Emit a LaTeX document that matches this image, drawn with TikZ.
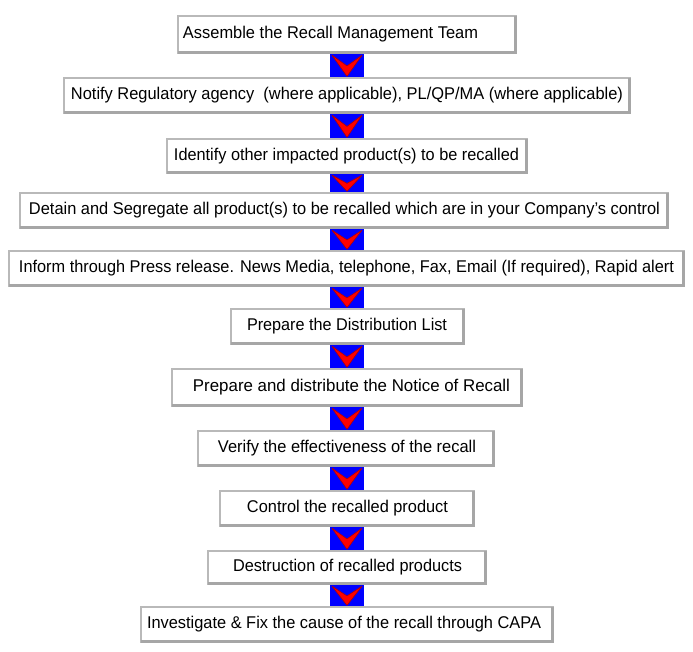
\documentclass[tikz,border=0pt]{standalone}
\usepackage{fontspec}
\setmainfont{Liberation Sans}
\usetikzlibrary{calc}
\tikzset{
  boxst/.style={draw=gray!55, line width=1.4pt, fill=white, inner sep=0pt},
  shadowst/.style={draw=gray!70, line width=2.6pt},
  textst/.style={inner sep=0pt, anchor=mid, font=\fontsize{17}{20}\selectfont},
  connst/.style={fill=blue},
  chevst/.style={fill=red, draw=red!70!black, line width=0.6pt, line join=round}
}
\newcommand\flowbox[8]{%
  \node[boxst, minimum width={(#3-#2)*1pt}, minimum height={(#5-#4)*1pt}] (#1) at ({(#2+#3)/2},{(#4+#5)/2}) {};
  \draw[shadowst] ($(#1.north east)+(-1,1)$) -- ($(#1.south east)+(-1,-1)$) -- ($(#1.south west)+(1,-1)$);
  \pgfmathsetmacro\tw{#7-#6}%
  \node[textst] (#1t) at ({(#6+#7)/2},{(#4+#5)/2+1.8}) {\resizebox{\tw pt}{\height}{#8}};
}
\newcommand\connect[2]{%
  \fill[connst] (#1.south -| cl) rectangle (#2.north -| cr);
  \filldraw[chevst] ($(#1.south -| cl)+(2,1.5)$) -- ($(#2.north -| cm)+(0,-1)$) -- ($(#1.south -| cr)+(-2,1.5)$) -- ($(#1.south -| cm)!0.52!(#2.north -| cm)$) -- cycle;
}
\begin{document}
\begin{tikzpicture}[x=1pt,y=-1pt]
\useasboundingbox[fill=white] (0,0) rectangle (693,651);
\coordinate (cl) at (330,0);
\coordinate (cr) at (364,0);
\coordinate (cm) at (347,0);
\flowbox{b1}{178}{516}{16}{53}{183}{478}{Assemble the Recall Management Team}
\flowbox{b2}{64}{630}{78}{113}{71}{623}{Notify Regulatory agency\ \ (where applicable), PL/QP/MA (where applicable)}
\flowbox{b3}{167}{527}{139}{173}{174}{519}{Identify other impacted product(s) to be recalled}
\flowbox{b4}{20}{668}{193}{228}{29}{660}{Detain and Segregate all product(s) to be recalled which are in your Company’s control}
\flowbox{b5}{9}{684}{251}{286}{19}{674}{Inform through Press release. News Media, telephone, Fax, Email (If required), Rapid alert}
\flowbox{b6}{231}{464}{309}{344}{247}{447}{Prepare the Distribution List}
\flowbox{b7}{172}{522}{369}{406}{193}{510}{Prepare and distribute the Notice of Recall}
\flowbox{b8}{198}{494}{431}{466}{218}{476}{Verify the effectiveness of the recall}
\flowbox{b9}{220}{474}{491}{526}{247}{448}{Control the recalled product}
\flowbox{b10}{208}{486}{551}{584}{233}{462}{Destruction of recalled products}
\flowbox{b11}{141}{553}{607}{642}{147}{541}{Investigate \& Fix the cause of the recall through CAPA}
\connect{b1}{b2}
\connect{b2}{b3}
\connect{b3}{b4}
\connect{b4}{b5}
\connect{b5}{b6}
\connect{b6}{b7}
\connect{b7}{b8}
\connect{b8}{b9}
\connect{b9}{b10}
\connect{b10}{b11}
\end{tikzpicture}
\end{document}
